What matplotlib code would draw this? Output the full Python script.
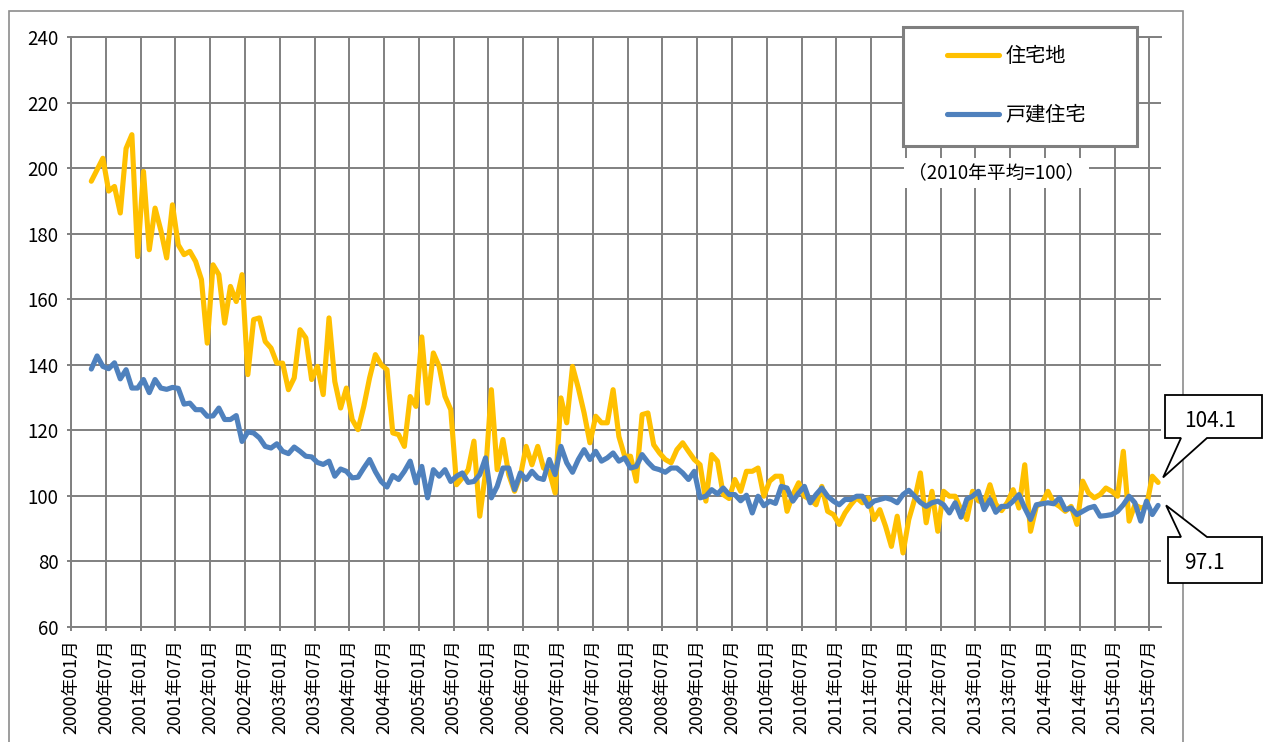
import numpy as np
import matplotlib
matplotlib.use("Agg")
import matplotlib.pyplot as plt
from matplotlib.patches import Polygon, Rectangle
from matplotlib.transforms import IdentityTransform

plt.rcParams['font.family'] = ['Noto Sans CJK JP', 'DejaVu Sans']

# categories: 2000年01月 .. 2015年08月 (188 months), data from 2000年04月
n_months = 188
first_data = 3

tick_labels = [
    "2000年01月", "2000年07月", "2001年01月", "2001年07月", "2002年01月", "2002年07月",
    "2003年01月", "2003年07月", "2004年01月", "2004年07月", "2005年01月", "2005年07月",
    "2006年01月", "2006年07月", "2007年01月", "2007年07月", "2008年01月", "2008年07月",
    "2009年01月", "2009年07月", "2010年01月", "2010年07月", "2011年01月", "2011年07月",
    "2012年01月", "2012年07月", "2013年01月", "2013年07月", "2014年01月", "2014年07月",
    "2015年01月", "2015年07月",
]

# 住宅地 (2000年04月 .. 2015年08月)
land = [
    196.0, 199.5, 203.0, 193.0, 194.4, 186.3, 206.0, 210.2, 173.0,
    199.0, 175.1, 187.8, 181.0, 172.6, 188.8, 176.6, 173.6, 174.6, 171.5, 166.0, 146.6,
    170.5, 167.5, 152.7, 163.9, 159.3, 167.5, 137.0, 153.8, 154.3, 147.1, 145.1, 140.5,
    140.5, 132.4, 136.0, 150.7, 148.2, 135.5, 139.5, 130.9, 154.3, 134.9, 126.8, 132.9,
    123.3, 120.2, 127.3, 136.0, 143.1, 140.0, 138.5, 119.2, 118.7, 115.1, 130.3, 127.3,
    148.5, 128.3, 143.6, 139.5, 130.4, 126.3, 103.4, 105.5, 108.0, 116.7, 93.8, 107.0,
    132.4, 108.0, 117.2, 106.5, 101.4, 106.0, 115.1, 109.5, 115.1, 108.5, 107.5, 100.9,
    129.9, 122.3, 139.5, 132.9, 125.3, 116.2, 124.3, 122.3, 122.3, 132.4, 118.1, 112.1,
    112.1, 104.5, 124.8, 125.3, 115.6, 113.1, 111.1, 110.1, 114.1, 116.2, 113.6, 111.1,
    109.5, 98.4, 112.6, 110.6, 100.4, 99.2, 105.0, 101.4, 107.5, 107.5, 108.5, 99.9,
    104.5, 106.0, 106.0, 95.3, 100.4, 104.0, 99.9, 98.9, 97.3, 102.9, 95.3, 94.3,
    91.3, 94.8, 97.3, 99.4, 97.9, 99.4, 92.8, 95.8, 90.7, 84.6, 93.8, 82.6,
    92.8, 98.9, 107.0, 91.8, 101.4, 89.2, 101.4, 99.9, 99.9, 95.8, 92.8, 101.4,
    98.5, 97.9, 103.4, 97.5, 95.5, 98.0, 101.9, 96.3, 109.5, 89.2, 96.8, 97.9,
    101.4, 97.9, 96.8, 95.3, 96.8, 91.3, 104.5, 100.9, 99.4, 100.4, 102.4, 101.4,
    99.9, 113.6, 92.3, 97.3, 96.3, 96.8, 106.0, 104.1,
]

# 戸建住宅 (2000年04月 .. 2015年08月)
house = [
    138.7, 142.7, 139.5, 138.8, 140.6, 135.7, 138.5, 132.9, 132.9,
    135.5, 131.5, 135.5, 132.9, 132.5, 133.1, 132.8, 128.0, 128.3, 126.3, 126.3, 124.3,
    124.4, 126.8, 123.3, 123.3, 124.5, 116.6, 119.5, 119.2, 117.7, 115.1, 114.6, 115.9,
    113.6, 112.9, 114.9, 113.6, 112.1, 111.9, 110.2, 109.6, 110.6, 106.0, 108.2, 107.5,
    105.5, 105.7, 108.5, 111.1, 107.4, 104.4, 102.7, 106.2, 105.0, 107.5, 110.6, 104.0,
    109.0, 99.4, 108.0, 106.0, 108.0, 104.4, 106.0, 107.0, 104.1, 104.4, 106.5, 111.6,
    99.4, 102.9, 108.5, 108.5, 101.9, 107.0, 105.0, 107.5, 105.5, 105.0, 111.1, 106.5,
    115.1, 110.1, 107.2, 111.1, 114.1, 111.1, 113.6, 110.6, 111.6, 113.1, 110.6, 111.6,
    108.5, 109.0, 112.6, 110.3, 108.5, 108.0, 107.2, 108.5, 108.5, 107.0, 105.0, 107.5,
    99.4, 99.9, 101.9, 100.6, 102.4, 100.4, 100.4, 98.5, 100.2, 94.8, 99.9, 97.0,
    98.4, 97.7, 102.9, 102.4, 98.4, 100.9, 102.9, 97.9, 100.4, 102.4, 99.9, 98.4,
    97.3, 98.9, 98.9, 99.9, 99.9, 96.8, 98.4, 98.9, 99.4, 98.9, 97.9, 100.4,
    101.7, 99.9, 98.0, 96.8, 97.9, 98.4, 97.3, 94.8, 97.9, 93.5, 99.0, 99.9,
    101.4, 95.8, 98.9, 95.0, 96.8, 96.8, 98.4, 100.4, 96.3, 92.8, 97.3, 97.6,
    97.9, 97.6, 99.4, 95.8, 96.3, 94.3, 95.3, 96.3, 96.8, 93.8, 94.0, 94.3,
    95.3, 97.3, 99.9, 97.9, 92.3, 98.4, 94.3, 97.1,
]

land_label = "住宅地"
house_label = "戸建住宅"
note = "（2010年平均=100）"

W, H = 1265, 742
grid_c = "#808080"

fig = plt.figure(figsize=(W / 100, H / 100), dpi=100)
ax = fig.add_axes([71 / W, 1 - 627 / H, (1161 - 71) / W, (627 - 37) / H])

x = np.arange(first_data, first_data + len(land)) + 0.5
ax.plot(x, land, color="#FFC000", lw=3.7, solid_joinstyle="round",
        solid_capstyle="round", label=land_label, zorder=3)
ax.plot(x, house, color="#4F81BD", lw=3.7, solid_joinstyle="round",
        solid_capstyle="round", label=house_label, zorder=3)

ax.set_xlim(0, n_months)
ax.set_ylim(60, 240)
ax.set_yticks(np.arange(60, 241, 20))
ax.set_xticks(np.arange(0, n_months, 6))
ax.set_xticklabels(tick_labels, rotation=90, fontsize=12.8)
ax.tick_params(axis="y", labelsize=13.5, length=3, width=1.4, color=grid_c, pad=6)
ax.tick_params(axis="x", length=3, width=1.4, color=grid_c, pad=6)
ax.grid(True, color=grid_c, linewidth=1.4)
ax.set_axisbelow(True)
for s in ["left", "bottom", "top"]:
    ax.spines[s].set_color(grid_c)
    ax.spines[s].set_linewidth(1.4)
ax.spines["right"].set_visible(False)

# outer chart border
fig.add_artist(Rectangle((9, -10), 1183 - 9, H - 11 + 10, transform=IdentityTransform(),
                         fill=False, ec="#8c8c8c", lw=1.2, zorder=-1))

# legend box
fig.add_artist(Rectangle((903, H - 146), 234, 119, transform=IdentityTransform(),
                         fc="white", ec="#7f7f7f", lw=2.2, zorder=5))
leg = fig.legend(loc="center left", bbox_to_anchor=(937 / W, 1 - 86 / H),
                 frameon=False, fontsize=14.5, handlelength=2.6, handletextpad=0.3,
                 labelspacing=1.9, borderpad=0)
leg.set_zorder(6)

fig.text(908 / W, 1 - 173 / H, note, fontsize=13.5, va="center", ha="left", zorder=6,
         bbox=dict(fc="white", ec="none", pad=3))


def callout(box, base, tip, text, text_xy):
    x0, y0, x1, y1 = box
    bx0, bx1, by = base
    if by >= y1:  # pointer on bottom edge
        pts = [(x0, y0), (x1, y0), (x1, y1), (bx1, y1), tip, (bx0, y1), (x0, y1)]
    else:  # pointer on top edge
        pts = [(x0, y0), (bx0, y0), tip, (bx1, y0), (x1, y0), (x1, y1), (x0, y1)]
    pts = [(px, H - py) for px, py in pts]
    fig.add_artist(Polygon(pts, closed=True, fc="white", ec="black", lw=1.3,
                           transform=IdentityTransform(), zorder=8))
    fig.text(text_xy[0] / W, 1 - text_xy[1] / H, text, fontsize=15, ha="left",
             va="center", zorder=9)


# tips anchored to the last data points
lx, ly = ax.transData.transform((x[-1], land[-1]))
hx, hy = ax.transData.transform((x[-1], house[-1]))
callout((1165, 395, 1262, 438), (1181, 1207, 438), (lx + 5, H - ly - 5),
        f"{land[-1]:.1f}", (1184, 421))
callout((1168, 537, 1262, 583), (1181, 1207, 537), (hx + 8, H - hy),
        f"{house[-1]:.1f}", (1184, 563))

fig.savefig("out.png", dpi=100)
